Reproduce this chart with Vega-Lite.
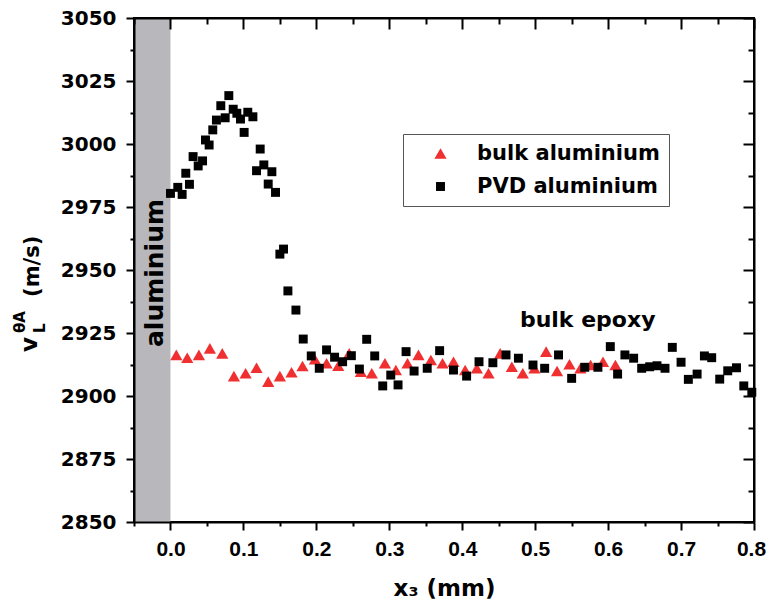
{
  "$schema": "https://vega.github.io/schema/vega-lite/v6.json",
  "width": 620,
  "height": 504,
  "autosize": {"type": "none"},
  "padding": {"left": 134, "top": 18, "right": 14, "bottom": 91},
  "background": "white",
  "config": {"view": {"stroke": "black", "strokeWidth": 2}, "font": "DejaVu Sans"},
  "datasets": {
    "pts": [
      {"x": 0.008, "y": 2916.3, "s": "bulk aluminium"},
      {"x": 0.023, "y": 2915.2, "s": "bulk aluminium"},
      {"x": 0.039, "y": 2916.3, "s": "bulk aluminium"},
      {"x": 0.054, "y": 2918.9, "s": "bulk aluminium"},
      {"x": 0.071, "y": 2916.9, "s": "bulk aluminium"},
      {"x": 0.087, "y": 2907.9, "s": "bulk aluminium"},
      {"x": 0.103, "y": 2909.0, "s": "bulk aluminium"},
      {"x": 0.118, "y": 2911.2, "s": "bulk aluminium"},
      {"x": 0.134, "y": 2905.7, "s": "bulk aluminium"},
      {"x": 0.150, "y": 2907.9, "s": "bulk aluminium"},
      {"x": 0.166, "y": 2909.4, "s": "bulk aluminium"},
      {"x": 0.181, "y": 2911.9, "s": "bulk aluminium"},
      {"x": 0.198, "y": 2914.6, "s": "bulk aluminium"},
      {"x": 0.214, "y": 2913.0, "s": "bulk aluminium"},
      {"x": 0.230, "y": 2912.0, "s": "bulk aluminium"},
      {"x": 0.245, "y": 2916.9, "s": "bulk aluminium"},
      {"x": 0.261, "y": 2909.6, "s": "bulk aluminium"},
      {"x": 0.276, "y": 2909.0, "s": "bulk aluminium"},
      {"x": 0.294, "y": 2913.0, "s": "bulk aluminium"},
      {"x": 0.309, "y": 2910.3, "s": "bulk aluminium"},
      {"x": 0.325, "y": 2913.0, "s": "bulk aluminium"},
      {"x": 0.340, "y": 2916.3, "s": "bulk aluminium"},
      {"x": 0.357, "y": 2914.3, "s": "bulk aluminium"},
      {"x": 0.373, "y": 2913.0, "s": "bulk aluminium"},
      {"x": 0.388, "y": 2913.6, "s": "bulk aluminium"},
      {"x": 0.404, "y": 2910.3, "s": "bulk aluminium"},
      {"x": 0.420, "y": 2911.0, "s": "bulk aluminium"},
      {"x": 0.436, "y": 2909.0, "s": "bulk aluminium"},
      {"x": 0.452, "y": 2916.9, "s": "bulk aluminium"},
      {"x": 0.468, "y": 2911.6, "s": "bulk aluminium"},
      {"x": 0.483, "y": 2909.0, "s": "bulk aluminium"},
      {"x": 0.499, "y": 2911.0, "s": "bulk aluminium"},
      {"x": 0.515, "y": 2917.6, "s": "bulk aluminium"},
      {"x": 0.530, "y": 2909.9, "s": "bulk aluminium"},
      {"x": 0.547, "y": 2912.6, "s": "bulk aluminium"},
      {"x": 0.562, "y": 2911.0, "s": "bulk aluminium"},
      {"x": 0.576, "y": 2912.3, "s": "bulk aluminium"},
      {"x": 0.593, "y": 2913.6, "s": "bulk aluminium"},
      {"x": 0.610, "y": 2912.3, "s": "bulk aluminium"},
      {"x": 0.000, "y": 2980.4, "s": "PVD aluminium"},
      {"x": 0.010, "y": 2982.8, "s": "PVD aluminium"},
      {"x": 0.016, "y": 2980.0, "s": "PVD aluminium"},
      {"x": 0.021, "y": 2988.4, "s": "PVD aluminium"},
      {"x": 0.026, "y": 2984.0, "s": "PVD aluminium"},
      {"x": 0.031, "y": 2995.0, "s": "PVD aluminium"},
      {"x": 0.038, "y": 2991.3, "s": "PVD aluminium"},
      {"x": 0.044, "y": 2993.3, "s": "PVD aluminium"},
      {"x": 0.048, "y": 3001.6, "s": "PVD aluminium"},
      {"x": 0.053, "y": 2999.6, "s": "PVD aluminium"},
      {"x": 0.058, "y": 3005.6, "s": "PVD aluminium"},
      {"x": 0.063, "y": 3009.5, "s": "PVD aluminium"},
      {"x": 0.069, "y": 3015.2, "s": "PVD aluminium"},
      {"x": 0.075, "y": 3010.4, "s": "PVD aluminium"},
      {"x": 0.080, "y": 3019.2, "s": "PVD aluminium"},
      {"x": 0.086, "y": 3013.8, "s": "PVD aluminium"},
      {"x": 0.091, "y": 3012.2, "s": "PVD aluminium"},
      {"x": 0.096, "y": 3009.9, "s": "PVD aluminium"},
      {"x": 0.101, "y": 3004.6, "s": "PVD aluminium"},
      {"x": 0.106, "y": 3012.6, "s": "PVD aluminium"},
      {"x": 0.113, "y": 3010.8, "s": "PVD aluminium"},
      {"x": 0.118, "y": 2989.4, "s": "PVD aluminium"},
      {"x": 0.123, "y": 2998.0, "s": "PVD aluminium"},
      {"x": 0.128, "y": 2991.7, "s": "PVD aluminium"},
      {"x": 0.134, "y": 2984.1, "s": "PVD aluminium"},
      {"x": 0.139, "y": 2989.0, "s": "PVD aluminium"},
      {"x": 0.144, "y": 2980.8, "s": "PVD aluminium"},
      {"x": 0.150, "y": 2956.3, "s": "PVD aluminium"},
      {"x": 0.155, "y": 2958.3, "s": "PVD aluminium"},
      {"x": 0.161, "y": 2941.7, "s": "PVD aluminium"},
      {"x": 0.172, "y": 2934.1, "s": "PVD aluminium"},
      {"x": 0.182, "y": 2922.6, "s": "PVD aluminium"},
      {"x": 0.193, "y": 2915.9, "s": "PVD aluminium"},
      {"x": 0.204, "y": 2911.0, "s": "PVD aluminium"},
      {"x": 0.214, "y": 2918.3, "s": "PVD aluminium"},
      {"x": 0.225, "y": 2915.4, "s": "PVD aluminium"},
      {"x": 0.236, "y": 2913.6, "s": "PVD aluminium"},
      {"x": 0.248, "y": 2916.0, "s": "PVD aluminium"},
      {"x": 0.259, "y": 2910.7, "s": "PVD aluminium"},
      {"x": 0.269, "y": 2922.5, "s": "PVD aluminium"},
      {"x": 0.280, "y": 2915.9, "s": "PVD aluminium"},
      {"x": 0.291, "y": 2904.0, "s": "PVD aluminium"},
      {"x": 0.302, "y": 2908.3, "s": "PVD aluminium"},
      {"x": 0.312, "y": 2904.4, "s": "PVD aluminium"},
      {"x": 0.323, "y": 2917.6, "s": "PVD aluminium"},
      {"x": 0.334, "y": 2909.9, "s": "PVD aluminium"},
      {"x": 0.352, "y": 2911.0, "s": "PVD aluminium"},
      {"x": 0.369, "y": 2918.0, "s": "PVD aluminium"},
      {"x": 0.388, "y": 2910.3, "s": "PVD aluminium"},
      {"x": 0.406, "y": 2907.9, "s": "PVD aluminium"},
      {"x": 0.423, "y": 2913.6, "s": "PVD aluminium"},
      {"x": 0.442, "y": 2913.2, "s": "PVD aluminium"},
      {"x": 0.460, "y": 2916.3, "s": "PVD aluminium"},
      {"x": 0.477, "y": 2915.0, "s": "PVD aluminium"},
      {"x": 0.497, "y": 2912.3, "s": "PVD aluminium"},
      {"x": 0.513, "y": 2911.0, "s": "PVD aluminium"},
      {"x": 0.532, "y": 2916.3, "s": "PVD aluminium"},
      {"x": 0.550, "y": 2907.0, "s": "PVD aluminium"},
      {"x": 0.568, "y": 2911.4, "s": "PVD aluminium"},
      {"x": 0.586, "y": 2911.4, "s": "PVD aluminium"},
      {"x": 0.603, "y": 2919.6, "s": "PVD aluminium"},
      {"x": 0.613, "y": 2908.7, "s": "PVD aluminium"},
      {"x": 0.623, "y": 2916.3, "s": "PVD aluminium"},
      {"x": 0.635, "y": 2915.0, "s": "PVD aluminium"},
      {"x": 0.646, "y": 2911.0, "s": "PVD aluminium"},
      {"x": 0.657, "y": 2911.6, "s": "PVD aluminium"},
      {"x": 0.667, "y": 2912.0, "s": "PVD aluminium"},
      {"x": 0.678, "y": 2911.0, "s": "PVD aluminium"},
      {"x": 0.688, "y": 2919.3, "s": "PVD aluminium"},
      {"x": 0.700, "y": 2913.4, "s": "PVD aluminium"},
      {"x": 0.710, "y": 2906.6, "s": "PVD aluminium"},
      {"x": 0.722, "y": 2908.7, "s": "PVD aluminium"},
      {"x": 0.732, "y": 2915.9, "s": "PVD aluminium"},
      {"x": 0.742, "y": 2915.2, "s": "PVD aluminium"},
      {"x": 0.753, "y": 2906.7, "s": "PVD aluminium"},
      {"x": 0.764, "y": 2910.0, "s": "PVD aluminium"},
      {"x": 0.776, "y": 2911.2, "s": "PVD aluminium"},
      {"x": 0.786, "y": 2904.0, "s": "PVD aluminium"},
      {"x": 0.797, "y": 2901.5, "s": "PVD aluminium"}
    ]
  },
  "layer": [
    {
      "data": {"values": [{}]},
      "mark": {"type": "rect", "color": "#b8b8bc"},
      "encoding": {
        "x": {"datum": -0.05, "type": "quantitative",
          "scale": {"domain": [-0.05, 0.8], "nice": false, "zero": false},
          "axis": {"orient": "bottom",
            "values": [-0.05, 0, 0.05, 0.1, 0.15, 0.2, 0.25, 0.3, 0.35, 0.4, 0.45, 0.5, 0.55, 0.6, 0.65, 0.7, 0.75, 0.8],
            "labelExpr": "abs(datum.value*10 - round(datum.value*10)) < 0.001 ? format(datum.value, '.1f') : ''",
            "title": "x₃ (mm)", "titleFont": "DejaVu Sans", "titleFontWeight": "bold", "titleFontSize": 23, "titleColor": "black", "titlePadding": 18,
            "labelFont": "Liberation Sans", "labelFontWeight": "bold", "labelFontSize": 21, "labelColor": "black", "labelPadding": 8,
            "labelFlush": false, "labelOverlap": false, "labelBound": false,
            "labelOffset": {"condition": {"test": "datum.value > 0.79", "value": -3}, "value": 0},
            "tickColor": "black", "tickWidth": 2,
            "tickSize": {"condition": {"test": "abs(datum.value*10 - round(datum.value*10)) < 0.001", "value": 8}, "value": 4},
            "domainColor": "black", "domainWidth": 2, "grid": false, "zindex": 1}},
        "x2": {"datum": 0},
        "y": {"datum": 2850, "type": "quantitative",
          "scale": {"domain": [2850, 3050], "nice": false, "zero": false},
          "axis": {"orient": "left",
            "values": [2850, 2862.5, 2875, 2887.5, 2900, 2912.5, 2925, 2937.5, 2950, 2962.5, 2975, 2987.5, 3000, 3012.5, 3025, 3037.5, 3050],
            "format": "d",
            "labelExpr": "datum.value % 25 == 0 ? format(datum.value, 'd') : ''",
            "title": null,
            "labelFont": "DejaVu Sans", "labelFontWeight": "bold", "labelFontSize": 20, "labelColor": "black", "labelPadding": 10,
            "labelFlush": false, "labelOverlap": false, "labelBound": false,
            "tickColor": "black", "tickWidth": 2,
            "tickSize": {"condition": {"test": "datum.value % 25 == 0", "value": 8}, "value": 4},
            "domainColor": "black", "domainWidth": 2, "grid": false, "zindex": 1}},
        "y2": {"datum": 3050}
      }
    },
    {
      "data": {"name": "pts"},
      "mark": {"type": "point", "filled": true, "opacity": 1},
      "encoding": {
        "x": {"field": "x", "type": "quantitative",
          "scale": {"domain": [-0.05, 0.8], "nice": false, "zero": false},
          "axis": {"orient": "top",
            "values": [-0.05, 0, 0.05, 0.1, 0.15, 0.2, 0.25, 0.3, 0.35, 0.4, 0.45, 0.5, 0.55, 0.6, 0.65, 0.7, 0.75, 0.8],
            "labels": false, "title": null,
            "tickColor": "black", "tickWidth": 2,
            "tickSize": {"condition": {"test": "abs(datum.value*10 - round(datum.value*10)) < 0.001", "value": -11}, "value": -6},
            "domainColor": "black", "domainWidth": 2, "grid": false, "zindex": 1}},
        "y": {"field": "y", "type": "quantitative",
          "scale": {"domain": [2850, 3050], "nice": false, "zero": false},
          "axis": {"orient": "right",
            "values": [2850, 2862.5, 2875, 2887.5, 2900, 2912.5, 2925, 2937.5, 2950, 2962.5, 2975, 2987.5, 3000, 3012.5, 3025, 3037.5, 3050],
            "labels": false, "title": null,
            "tickColor": "black", "tickWidth": 2,
            "tickSize": {"condition": {"test": "datum.value % 25 == 0", "value": -11}, "value": -6},
            "domainColor": "black", "domainWidth": 2, "grid": false, "zindex": 1}},
        "color": {"field": "s", "type": "nominal",
          "scale": {"domain": ["bulk aluminium", "PVD aluminium"], "range": ["#f03030", "#000000"]},
          "legend": {"title": null, "orient": "none", "legendX": 269, "legendY": 116,
            "strokeColor": "#555555", "fillColor": "white", "padding": 9,
            "labelFont": "DejaVu Sans", "labelFontWeight": "bold", "labelFontSize": 21, "labelColor": "black", "labelLimit": 400,
            "symbolOffset": 18, "labelOffset": 26, "rowPadding": 11}},
        "shape": {"field": "s", "type": "nominal",
          "scale": {"domain": ["bulk aluminium", "PVD aluminium"], "range": ["triangle-up", "square"]}},
        "size": {"field": "s", "type": "nominal",
          "scale": {"domain": ["bulk aluminium", "PVD aluminium"], "range": [150, 80]}}
      }
    },
    {
      "data": {"values": [{}]},
      "mark": {"type": "text", "text": "aluminium", "angle": 270, "align": "center", "baseline": "alphabetic", "font": "DejaVu Sans", "fontWeight": "bold", "fontSize": 25, "color": "black"},
      "encoding": {
        "x": {"datum": -0.0102, "type": "quantitative", "scale": {"domain": [-0.05, 0.8], "nice": false, "zero": false}, "axis": null},
        "y": {"datum": 2948.8, "type": "quantitative", "scale": {"domain": [2850, 3050], "nice": false, "zero": false}, "axis": null}
      }
    },
    {
      "data": {"values": [{}]},
      "mark": {"type": "text", "text": "bulk epoxy", "align": "center", "baseline": "alphabetic", "font": "DejaVu Sans", "fontWeight": "bold", "fontSize": 22, "color": "black"},
      "encoding": {
        "x": {"datum": 0.572, "type": "quantitative", "scale": {"domain": [-0.05, 0.8], "nice": false, "zero": false}, "axis": null},
        "y": {"datum": 2927.4, "type": "quantitative", "scale": {"domain": [2850, 3050], "nice": false, "zero": false}, "axis": null}
      }
    },
    {
      "data": {"values": [{}]},
      "mark": {"type": "text", "text": "v", "angle": 270, "align": "left", "baseline": "alphabetic", "font": "DejaVu Sans", "fontWeight": "bold", "fontSize": 23, "color": "black"},
      "encoding": {
        "x": {"datum": -0.183, "type": "quantitative", "scale": {"domain": [-0.05, 0.8], "nice": false, "zero": false}, "axis": null},
        "y": {"datum": 2917.5, "type": "quantitative", "scale": {"domain": [2850, 3050], "nice": false, "zero": false}, "axis": null}
      }
    },
    {
      "data": {"values": [{}]},
      "mark": {"type": "text", "text": "L", "angle": 270, "align": "left", "baseline": "alphabetic", "font": "DejaVu Sans", "fontWeight": "bold", "fontSize": 15, "color": "black"},
      "encoding": {
        "x": {"datum": -0.172, "type": "quantitative", "scale": {"domain": [-0.05, 0.8], "nice": false, "zero": false}, "axis": null},
        "y": {"datum": 2925, "type": "quantitative", "scale": {"domain": [2850, 3050], "nice": false, "zero": false}, "axis": null}
      }
    },
    {
      "data": {"values": [{}]},
      "mark": {"type": "text", "text": "θA", "angle": 270, "align": "left", "baseline": "alphabetic", "font": "DejaVu Sans", "fontWeight": "bold", "fontSize": 15, "color": "black"},
      "encoding": {
        "x": {"datum": -0.1994, "type": "quantitative", "scale": {"domain": [-0.05, 0.8], "nice": false, "zero": false}, "axis": null},
        "y": {"datum": 2925, "type": "quantitative", "scale": {"domain": [2850, 3050], "nice": false, "zero": false}, "axis": null}
      }
    },
    {
      "data": {"values": [{}]},
      "mark": {"type": "text", "text": "(m/s)", "angle": 270, "align": "left", "baseline": "alphabetic", "font": "DejaVu Sans", "fontWeight": "bold", "fontSize": 21, "color": "black"},
      "encoding": {
        "x": {"datum": -0.1809, "type": "quantitative", "scale": {"domain": [-0.05, 0.8], "nice": false, "zero": false}, "axis": null},
        "y": {"datum": 2939.3, "type": "quantitative", "scale": {"domain": [2850, 3050], "nice": false, "zero": false}, "axis": null}
      }
    }
  ],
  "resolve": {"axis": {"x": "independent", "y": "independent"}}
}
